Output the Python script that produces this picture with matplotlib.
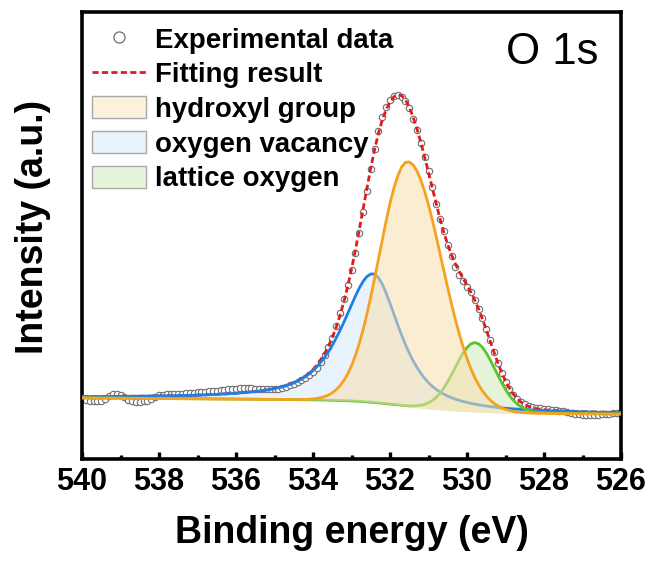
import numpy as np
import matplotlib
matplotlib.use("Agg")
import matplotlib.pyplot as plt
from matplotlib.lines import Line2D
from matplotlib.patches import Patch
from matplotlib.ticker import MultipleLocator

plt.rcParams['font.family'] = ['Liberation Sans', 'DejaVu Sans']

energy = np.round(np.arange(540.0, 525.95, -0.1), 2)
intensity = [
    60, 59, 58, 58, 58, 58, 60, 63, 65, 65,
    64, 62, 59, 58, 57, 57, 58, 58, 60, 62,
    64, 64, 65, 65, 65, 65, 65, 66, 66, 66,
    67, 67, 67, 68, 68, 68, 69, 69, 70, 70,
    70, 71, 71, 71, 71, 70, 70, 70, 70, 70,
    70, 70,
    71, 72, 74, 75, 77, 79, 81, 84, 87, 91,
    97, 104, 112, 121, 133, 146, 160, 174, 189, 206,
    226, 247, 268, 290, 310, 328, 342, 352, 359, 363,
    364, 362, 358, 351, 340, 329, 316, 302, 288, 272,
    255, 240, 228, 214, 203, 192, 184, 178, 172, 167,
    159, 150, 141, 130, 119, 107, 96, 86, 77, 70,
    64, 60, 57, 55, 53, 52, 51, 51, 50, 50,
    49, 49, 48, 48, 47, 46, 45, 45, 44, 44,
    44, 44, 44, 45, 45, 45, 46, 46, 46,
]

# ---- fitted components: center (eV), height, HWHM high-BE side, HWHM low-BE side, Lorentz fraction ----
hydroxyl = (531.53, 245.0, 0.88, 1.03, 0.00)
vacancy = (532.44, 129.0, 0.93, 0.81, 0.71)
lattice = (529.79, 69.4, 0.63, 0.63, 0.07)
# Shirley-type background: offset at 526 eV, linear slope, step height
background = (44.9, 0.256, 12.6)

legend_labels = ["Experimental data", "Fitting result", "hydroxyl group",
                 "oxygen vacancy", "lattice oxygen"]
x_ticks = [540, 538, 536, 534, 532, 530, 528, 526]

E = energy
I = np.array(intensity, float)


def pseudo_voigt(c, h, wl, wr, eta):
    w = np.where(E >= c, wl, wr)
    x = (E - c) / w
    return h * ((1 - eta) * np.exp(-np.log(2) * x ** 2) + eta / (1 + x ** 2))


oh = pseudo_voigt(*hydroxyl)
vo = pseudo_voigt(*vacancy)
lo = pseudo_voigt(*lattice)
tot = oh + vo + lo
cum = np.cumsum(tot[::-1])[::-1]
bg = background[0] + background[1] * (E - 526) + background[2] * cum / cum[0]
fit = tot + bg

c_or, c_bl, c_gr = '#F5A21E', '#1E80E4', '#5EC22C'
f_or, f_bl, f_gr = '#F8DFAE', '#E8F3FD', '#E6F5DA'
c_red = '#E3191C'

fig = plt.figure(figsize=(6.51, 5.61), dpi=100)
ax = fig.add_axes([82 / 651, 1 - 459 / 561, (621 - 82) / 651, (459 - 12) / 561])

ax.fill_between(E, bg, bg + vo, color=f_bl, lw=0, zorder=1)
ax.fill_between(E, bg, bg + lo, color=f_gr, lw=0, zorder=1.1)
ax.plot(E, I, 'o', ms=4.6, mfc='white', mec='#6E6E6E', mew=0.8, zorder=2)
ax.plot(E, fit, color=c_red, lw=2.0, dashes=(2.2, 1.2), zorder=3)
ax.plot(E, bg + vo, color=c_bl, lw=2.0, zorder=4)
ax.plot(E, bg + lo, color=c_gr, lw=2.0, zorder=4.1)
ax.fill_between(E, bg, bg + oh, color=f_or, alpha=0.55, lw=0, zorder=4.5)
ax.plot(E, bg + oh, color=c_or, lw=2.0, zorder=5)

ax.set_xlim(540, 526)
ax.set_ylim(0, 447)
ax.set_xticks(x_ticks)
ax.set_xticklabels([str(t) for t in x_ticks])
ax.xaxis.set_minor_locator(MultipleLocator(1))
ax.set_yticks([])
ax.tick_params(axis='x', which='major', direction='in', length=5, width=2.4,
               labelsize=22, pad=6, top=False)
ax.tick_params(axis='x', which='minor', direction='in', length=3, width=2.4, top=False)
for lab in ax.get_xticklabels():
    lab.set_fontweight('bold')
for s in ax.spines.values():
    s.set_linewidth(2.6)

ax.set_xlabel('Binding energy (eV)', fontsize=27, fontweight='bold', labelpad=13)
ax.set_ylabel('Intensity (a.u.)', fontsize=27, fontweight='bold')
ax.yaxis.set_label_coords(-0.058, 0.52)

ax.text(0.958, 0.955, 'O 1s', transform=ax.transAxes, ha='right', va='top',
        fontsize=31.5)

handles = [
    Line2D([], [], ls='none', marker='o', ms=8, mfc='white', mec='#6E6E6E', mew=0.9),
    Line2D([], [], color=c_red, lw=2.0, dashes=(2.2, 1.2)),
    Patch(facecolor='#FDF1DE', edgecolor='#A8A8A8', lw=1),
    Patch(facecolor=f_bl, edgecolor='#A8A8A8', lw=1),
    Patch(facecolor=f_gr, edgecolor='#A8A8A8', lw=1),
]
leg = ax.legend(handles, legend_labels, loc='upper left', bbox_to_anchor=(-0.01, 1.0),
                frameon=False, prop={'weight': 'bold', 'size': 19.9},
                handlelength=1.95, handleheight=0.85, handletextpad=0.35,
                labelspacing=0.29, borderaxespad=0.3, borderpad=0.25)

fig.savefig('out.png', dpi=100)
